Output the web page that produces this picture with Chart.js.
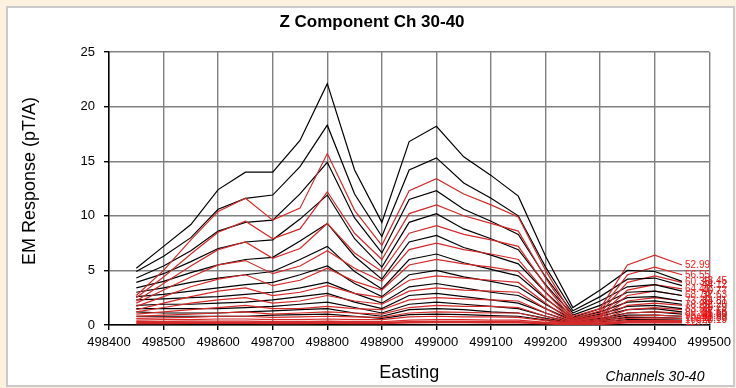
<!DOCTYPE html>
<html><head><meta charset="utf-8">
<script src="https://cdn.jsdelivr.net/npm/chart.js@4/dist/chart.umd.min.js"></script>
<style>
html,body{margin:0;padding:0;background:#fcf1de;width:736px;height:388px;overflow:hidden;}
#panel{position:absolute;left:6px;top:6px;width:725px;height:377px;background:#fff;border:2px solid #cacaca;}
#c{position:absolute;left:0;top:0;}
</style></head><body>
<div id="panel"></div>
<canvas id="c" width="736" height="388"></canvas>
<script>
// Easting positions of the readings
const eastings = [498450,498500,498550,498600,498650,498700,498750,498800,498850,498900,498950,499000,499050,499100,499150,499200,499250,499300,499350,499400,499450];
const xTicks = [498400,498500,498600,498700,498800,498900,499000,499100,499200,499300,499400,499500];
const yTicks = [0,5,10,15,20,25];

// black profiles (top to bottom)
const black1  = [5.2,7.2,9.2,12.4,14.0,14.0,16.9,22.1,14.2,9.4,16.8,18.2,15.4,13.7,11.8,6.3,1.6,3.2,5.0,4.9,4.0];
const black2  = [4.9,6.3,8.0,10.6,11.6,11.9,14.5,18.3,12.0,8.1,14.2,15.3,13.0,11.6,10.0,5.3,1.3,2.6,4.2,4.3,3.6];
const black3  = [4.3,5.4,6.8,8.6,9.4,9.6,12.0,14.9,9.8,6.6,11.5,12.3,10.6,9.5,8.3,4.4,1.1,2.2,3.5,3.7,3.1];
const black4  = [3.9,4.7,5.8,7.0,7.6,7.8,9.7,11.9,7.9,5.3,9.4,10.2,8.8,7.9,6.9,3.7,0.9,1.8,3.0,3.1,2.7];
const black5  = [3.4,4.0,4.8,5.5,6.0,6.2,7.7,9.3,6.3,4.2,7.6,8.2,7.1,6.4,5.6,3.0,0.7,1.5,2.5,2.6,2.2];
const black6  = [3.0,3.4,3.9,4.3,4.6,4.9,6.0,7.2,4.9,3.3,6.0,6.5,5.7,5.1,4.5,2.4,0.6,1.2,2.1,2.2,1.9];
const black7  = [2.6,2.8,3.1,3.4,3.7,3.9,4.6,5.4,3.8,2.6,4.6,5.0,4.4,4.0,3.5,1.9,0.5,1.0,1.7,1.8,1.5];
const black8  = [2.3,2.4,2.5,2.6,2.8,3.0,3.4,3.9,2.9,2.0,3.5,3.8,3.4,3.0,2.7,1.5,0.4,0.8,1.4,1.5,1.2];
const black9  = [1.8,1.9,1.9,2.0,2.1,2.3,2.6,2.9,2.1,1.5,2.7,2.9,2.6,2.3,2.0,1.1,0.3,0.6,1.1,1.2,1.0];
const black10 = [1.5,1.5,1.5,1.5,1.6,1.7,1.9,2.1,1.6,1.1,1.9,2.1,1.9,1.7,1.5,0.8,0.25,0.5,0.9,0.9,0.8];
const black11 = [1.2,1.1,1.1,1.1,1.2,1.3,1.4,1.5,1.1,0.8,1.4,1.5,1.4,1.2,1.1,0.6,0.2,0.4,0.7,0.7,0.6];
const black12 = [0.8,0.8,0.8,0.8,0.8,0.9,0.95,1.0,0.8,0.6,0.95,1.0,0.95,0.85,0.8,0.45,0.15,0.3,0.5,0.5,0.45];

// red profiles (top to bottom)
const red1  = [2.7,5.0,7.8,10.4,11.6,9.6,10.7,15.7,10.5,7.3,12.3,13.4,12.0,11.0,9.9,5.0,0.8,1.5,5.5,6.4,5.5];
const red2  = [2.5,4.4,6.5,8.5,9.5,7.9,8.8,12.2,8.4,6.0,10.2,11.0,10.0,9.3,8.6,4.3,0.6,1.3,4.6,5.3,4.6];
const red3  = [2.2,3.8,5.4,6.9,7.6,6.1,7.0,9.3,6.6,4.9,8.4,9.1,8.3,7.8,7.2,3.6,0.5,1.1,3.9,4.5,3.9];
const red4  = [2.0,3.2,4.4,5.5,5.9,4.7,5.4,6.8,5.2,4.0,6.9,7.5,6.9,6.5,6.0,3.0,0.4,0.9,3.2,3.7,3.3];
const red5  = [1.7,2.6,3.5,4.2,4.6,3.6,4.1,5.2,4.0,3.2,5.5,6.0,5.6,5.3,4.9,2.5,0.35,0.8,2.7,3.1,2.7];
const red6  = [1.4,2.0,2.6,3.1,3.4,2.7,3.0,3.6,2.9,2.5,4.1,4.5,4.3,4.1,3.9,2.0,0.3,0.7,2.2,2.5,2.2];
const red7  = [1.2,1.6,2.0,2.3,2.5,2.0,2.2,2.7,2.2,1.9,3.1,3.4,3.2,3.1,3.0,1.5,0.25,0.55,1.8,2.0,1.8];
const red8  = [1.0,1.2,1.4,1.6,1.8,1.5,1.5,1.7,1.5,1.4,2.3,2.5,2.4,2.3,2.2,1.1,0.2,0.45,1.4,1.6,1.4];
const red9  = [0.8,0.9,1.0,1.1,1.2,1.0,1.1,1.2,1.1,1.0,1.6,1.8,1.7,1.7,1.6,0.8,0.15,0.35,1.1,1.2,1.1];
const red10 = [0.6,0.65,0.7,0.8,0.8,0.7,0.75,0.8,0.75,0.7,1.1,1.2,1.15,1.1,1.1,0.55,0.12,0.3,0.8,0.9,0.8];
const red11 = [0.45,0.5,0.5,0.55,0.55,0.5,0.5,0.55,0.5,0.5,0.75,0.8,0.75,0.75,0.7,0.4,0.1,0.2,0.6,0.65,0.6];
const red12 = [0.3,0.3,0.35,0.35,0.35,0.3,0.3,0.35,0.3,0.3,0.45,0.5,0.5,0.45,0.45,0.25,0.08,0.15,0.4,0.45,0.4];
const red13 = [0.18,0.18,0.2,0.2,0.2,0.18,0.18,0.2,0.18,0.18,0.25,0.28,0.28,0.25,0.25,0.15,0.05,0.1,0.25,0.28,0.25];

const blackSeries = [black1,black2,black3,black4,black5,black6,black7,black8,black9,black10,black11,black12];
const redSeries = [red1,red2,red3,red4,red5,red6,red7,red8,red9,red10,red11,red12,red13];
// end-of-line labels
const blackLabels = ['48.45','44.12','40.77','37.63','34.81','32.20','29.79','27.56','25.50','23.59','21.83','20.19'];
const redLabels = ['52.99','56.55','60.35','64.41','68.74','73.36','78.29','83.55','89.17','95.16','101.6','108.4','115.7'];

const BLACK = '#000000';
const RED = '#d42a2a';

const datasets = [];
const maxN = Math.max(blackSeries.length, redSeries.length);
for (let i = 0; i < maxN; i++) {
  if (redSeries[i]) datasets.push({label: redLabels[i], data: redSeries[i].map((v,j)=>({x:eastings[j], y:v})), borderColor: RED, borderWidth: i === redSeries.length-1 ? 2.5 : 1.2, pointRadius: 0, tension: 0, _lblColor: '#ff1a1a'});
  if (blackSeries[i]) datasets.push({label: blackLabels[i], data: blackSeries[i].map((v,j)=>({x:eastings[j], y:v})), borderColor: BLACK, borderWidth: 1.2, pointRadius: 0, tension: 0, _lblColor: '#e01010'});
}

const decor = {
  id: 'decor',
  afterDatasetsDraw(chart) {
    const ctx = chart.ctx;
    ctx.save();
    ctx.font = '10px "Liberation Sans", Arial, sans-serif';
    ctx.textBaseline = 'middle';
    ctx.textAlign = 'left';
    chart.data.datasets.forEach((ds, i) => {
      const meta = chart.getDatasetMeta(i);
      const p = meta.data[meta.data.length-1];
      ctx.fillStyle = ds._lblColor;
      ctx.fillText(ds.label, p.x + 3 + (i % 2) * 17, p.y);
    });
    ctx.restore();
  },
  afterDraw(chart) {
    const ctx = chart.ctx;
    ctx.save();
    ctx.fillStyle = '#000';
    ctx.textAlign = 'center';
    ctx.textBaseline = 'middle';
    ctx.font = 'bold 17px "Liberation Sans", Arial, sans-serif';
    ctx.fillText('Z Component Ch 30-40', 372, 22);
    ctx.save();
    ctx.translate(30, 181);
    ctx.rotate(-Math.PI/2);
    ctx.font = '18px "Liberation Sans", Arial, sans-serif';
    ctx.fillText('EM Response (pT/A)', 0, 0);
    ctx.restore();
    ctx.font = 'italic 14px "Liberation Sans", Arial, sans-serif';
    ctx.fillText('Channels 30-40', 655, 377);
    ctx.restore();
  }
};

new Chart(document.getElementById('c'), {
  type: 'line',
  data: { datasets },
  options: {
    responsive: false, animation: false, devicePixelRatio: 1,
    layout: { padding: { left: 8, right: 23, top: 52, bottom: 0 } },
    plugins: { legend: { display: false }, title: { display: false }, tooltip: { enabled: false } },
    scales: {
      x: {
        type: 'linear', min: xTicks[0], max: xTicks[xTicks.length-1],
        afterBuildTicks(s) { s.ticks = xTicks.map(v => ({value: v})); },
        ticks: { callback: v => String(v), color: '#000', font: { size: 13, family: '"Liberation Sans", Arial' }, padding: 5, maxRotation: 0, autoSkip: false },
        grid: { color: '#808080', lineWidth: 1.4, tickColor: '#000', tickLength: 5 },
        border: { color: '#000', width: 1.5 },
        title: { display: true, text: 'Easting', color: '#000', font: { size: 18, family: '"Liberation Sans", Arial' }, padding: { top: 0, bottom: 4 } },
        afterFit(s) { s.height = 63; }
      },
      y: {
        min: yTicks[0], max: yTicks[yTicks.length-1],
        afterBuildTicks(s) { s.ticks = yTicks.map(v => ({value: v})); },
        ticks: { color: '#000', font: { size: 13, family: '"Liberation Sans", Arial' }, padding: 9 },
        grid: { color: '#808080', lineWidth: 1.4, tickColor: '#000', tickLength: 5 },
        border: { color: '#000', width: 1.5 },
        afterFit(s) { s.width = 101; }
      }
    }
  },
  plugins: [decor]
});
</script>
</body></html>
